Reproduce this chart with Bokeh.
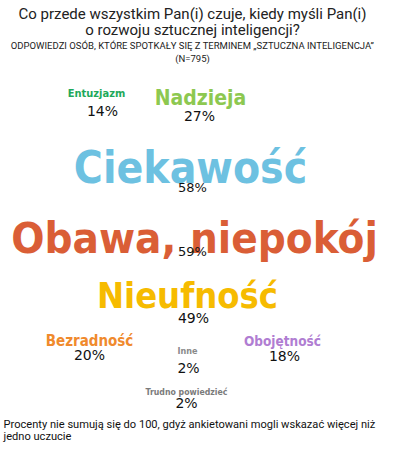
from bokeh.plotting import figure
from bokeh.models import Range1d, ColumnDataSource
from bokeh.core.properties import value
from bokeh.embed import file_html
from bokeh.resources import INLINE

# ---- data ----
title_lines = ["Co przede wszystkim Pan(i) czuje, kiedy myśli Pan(i)",
               "o rozwoju sztucznej inteligencji?"]
subtitle_lines = ["ODPOWIEDZI OSÓB, KTÓRE SPOTKAŁY SIĘ Z TERMINEM „SZTUCZNA INTELIGENCJA”",
                  "(N=795)"]
footer_lines = ["Procenty nie sumują się do 100, gdyż ankietowani mogli wskazać więcej niż",
                "jedno uczucie"]

words = ["Entuzjazm", "Nadzieja", "Ciekawość", "Obawa, niepokój", "Nieufność",
         "Bezradność", "Obojętność", "Inne", "Trudno powiedzieć"]
percents = [14, 27, 58, 59, 49, 20, 18, 2, 2]

# ---- layout / style (page pixel coordinates) ----
word_x = [104, 208, 198, 202, 195, 97, 290, 195, 194]
word_y = [101, 105, 175, 245, 303, 348, 348, 358, 399]
word_size = [11, 21, 44, 43.5, 36, 15, 13.5, 9, 8.7]
word_color = ["#1ea95a", "#8dc850", "#6dc1e1", "#da5e36", "#f6bb00",
              "#f08a2d", "#b07dd2", "#8a8a8a", "#7b7b7b"]
pct_x = [110, 207, 200, 200, 201, 97, 292, 196, 194]
pct_y = [118, 123, 195, 259, 325, 362, 363, 375, 410]
pct_size = [14, 14, 13, 13, 14, 14, 14, 14, 14]

W, H = 384, 444
p = figure(width=W, height=H, output_backend="svg", toolbar_location=None,
           x_range=Range1d(8, 8 + W), y_range=Range1d(8 + H, 8),
           min_border=0, outline_line_color=None, background_fill_color="white")
p.axis.visible = False
p.grid.visible = False

# title
p.text(x=[200, 200], y=[21, 37], text=title_lines, text_align="center",
       text_baseline="alphabetic", text_font=value("Roboto"),
       text_font_size="15px", text_color="#222222")
p.text(x=[200, 200], y=[53, 66], text=subtitle_lines, text_align="center",
       text_baseline="alphabetic", text_font=value("Roboto"),
       text_font_size="9.5px", text_color="#222222")

# words
src = ColumnDataSource(dict(x=word_x, y=word_y, t=words,
                            s=[f"{s}px" for s in word_size], c=word_color))
p.text(x="x", y="y", text="t", source=src, text_align="center",
       text_baseline="alphabetic", text_font=value("DejaVu Sans Condensed"),
       text_font_style="bold", text_font_size="s", text_color="c")

# percentages
psrc = ColumnDataSource(dict(x=pct_x, y=pct_y, t=[f"{v}%" for v in percents],
                             s=[f"{s}px" for s in pct_size]))
p.text(x="x", y="y", text="t", source=psrc, text_align="center",
       text_baseline="alphabetic", text_font=value("DejaVu Sans"),
       text_font_size="s", text_color="#111111")

# footer
p.text(x=[11, 11], y=[432, 444], text=footer_lines, text_align="left",
       text_baseline="alphabetic", text_font=value("Roboto"),
       text_font_size="11.1px", text_color="#111111")

open("out.html", "w").write(file_html(p, INLINE))
